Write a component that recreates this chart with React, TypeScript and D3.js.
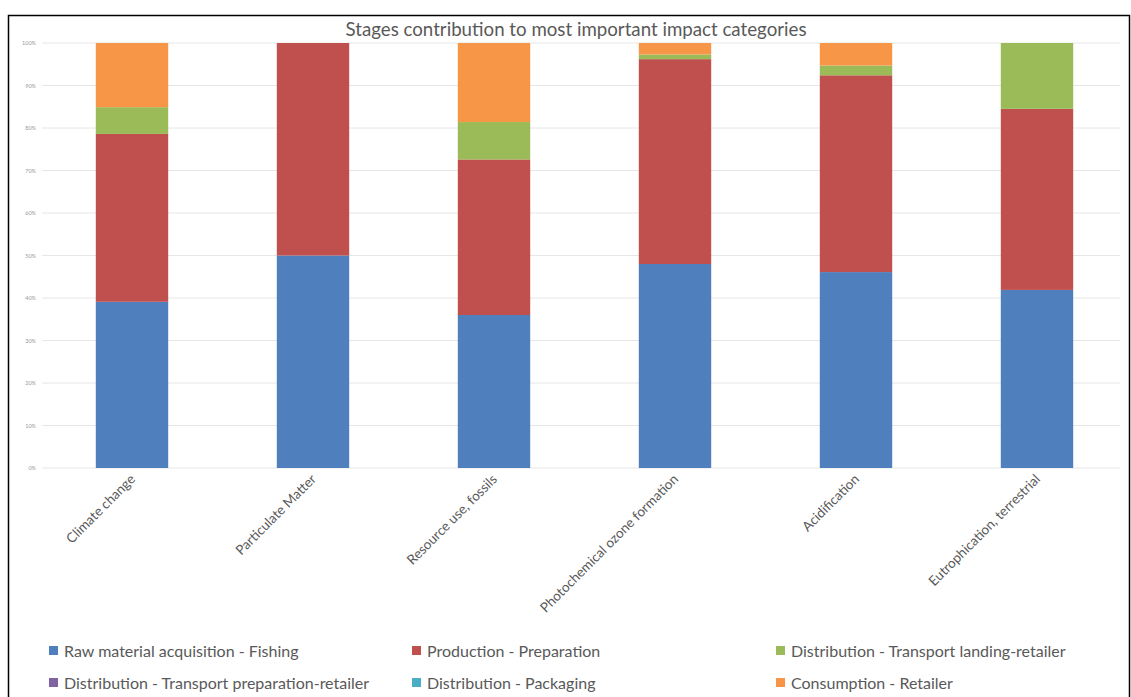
import React from "react";
import * as d3 from "d3";

const categories = [
  "Climate change",
  "Particulate Matter",
  "Resource use, fossils",
  "Photochemical ozone formation",
  "Acidification",
  "Eutrophication, terrestrial",
];

const seriesNames = [
  "Raw material acquisition - Fishing",
  "Production - Preparation",
  "Distribution - Transport landing-retailer",
  "Distribution - Transport preparation-retailer",
  "Distribution - Packaging",
  "Consumption - Retailer",
];

const rawMaterial = [39.1, 50.0, 36.0, 48.0, 46.1, 41.9];
const production = [39.5, 50.0, 36.6, 48.2, 46.3, 42.6];
const transportLanding = [6.3, 0, 8.8, 1.1, 2.3, 15.5];
const transportPreparation = [0, 0, 0, 0, 0, 0];
const packaging = [0, 0, 0, 0, 0, 0];
const consumption = [15.1, 0, 18.6, 2.7, 5.3, 0];

const seriesColors = ["#4f7fbd", "#c0504d", "#9bbb59", "#8064a2", "#4bacc6", "#f79646"];

const yTicks = [0, 10, 20, 30, 40, 50, 60, 70, 80, 90, 100];

const W = 1131;
const H = 697;
const FONT = "Lato, 'Open Sans', sans-serif";

export default function App() {
  const seriesValues = [rawMaterial, production, transportLanding, transportPreparation, packaging, consumption];
  const rows = categories.map((c, i) => {
    const r: Record<string, any> = { cat: c };
    seriesNames.forEach((s, k) => (r[s] = seriesValues[k][i]));
    return r;
  });
  const stacked = d3.stack<any>().keys(seriesNames)(rows);

  const x = d3.scaleBand<string>().domain(categories).range([41.5, 1127.5]).paddingInner(0.6).paddingOuter(0.3);
  const y = d3.scaleLinear().domain([0, 100]).range([468, 43]);

  const legendCols = [49, 412, 776];
  const legendRows = [651, 683];

  return (
    <svg width={W} height={H} style={{ position: "absolute", left: 0, top: 0, background: "#fff" }}>
      <rect x={0} y={0} width={W} height={H} fill="#fff" />
      <rect x={8.5} y={15.5} width={1121} height={H + 20} fill="none" stroke="#000" strokeWidth={1.5} />
      <text x={576} y={36} textAnchor="middle" fontFamily={FONT} fontSize={18.7} fill="#595959">
        Stages contribution to most important impact categories
      </text>
      {yTicks.map((t) => (
        <g key={t}>
          <line x1={42} x2={1120} y1={y(t)} y2={y(t)} stroke="#e6e6e6" strokeWidth={1} />
          <text x={36} y={y(t) + 2} textAnchor="end" fontFamily={FONT} fontSize={5.5} fill="#9a9a9a">
            {t}%
          </text>
        </g>
      ))}
      {stacked.map((s, k) => (
        <g key={s.key} fill={seriesColors[k]}>
          {s.map((d, i) =>
            d[1] - d[0] > 0 ? (
              <rect
                key={i}
                x={x(categories[i])}
                width={x.bandwidth()}
                y={y(d[1])}
                height={y(d[0]) - y(d[1])}
              />
            ) : null
          )}
        </g>
      ))}
      {categories.map((c) => {
        const cx = (x(c) as number) + x.bandwidth() / 2 + 4;
        return (
          <text
            key={c}
            transform={`translate(${cx},${480}) rotate(-45)`}
            textAnchor="end"
            fontFamily={FONT}
            fontSize={13.5}
            fill="#595959"
          >
            {c}
          </text>
        );
      })}
      {seriesNames.map((s, k) => {
        const lx = legendCols[k % 3];
        const ly = legendRows[Math.floor(k / 3)];
        return (
          <g key={s}>
            <rect x={lx} y={ly - 5} width={9} height={9} fill={seriesColors[k]} />
            <text x={lx + 15} y={ly + 5.5} fontFamily={FONT} fontSize={16} fill="#595959">
              {s}
            </text>
          </g>
        );
      })}
    </svg>
  );
}
